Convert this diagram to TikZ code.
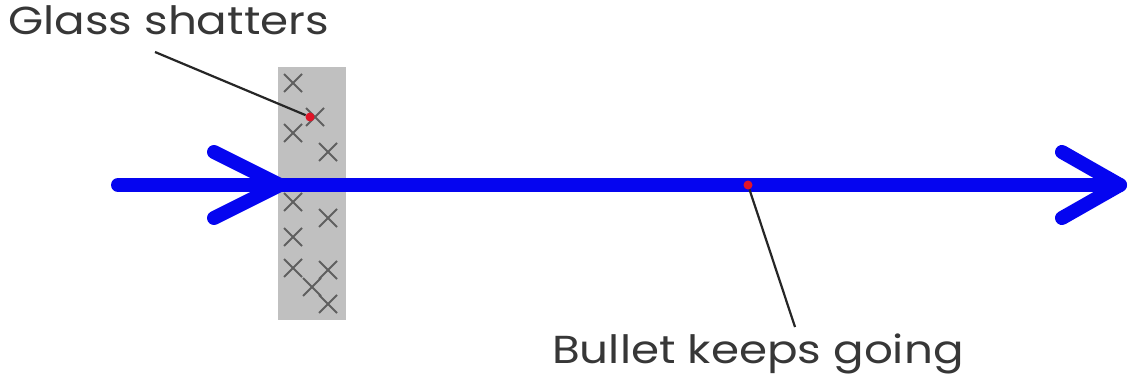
\documentclass[tikz,border=0pt]{standalone}
\usepackage{fontspec}
\setmainfont{Poppins}
\definecolor{glassgray}{RGB}{192,192,192}
\definecolor{xgray}{RGB}{95,95,95}
\definecolor{txtgray}{RGB}{55,55,55}
\definecolor{bulletblue}{RGB}{5,5,240}
\definecolor{dotred}{RGB}{225,20,40}
\tikzset{
  lbl/.style={anchor=base west, inner sep=0pt, text=txtgray, font=\fontsize{39}{44}\selectfont},
  xmark/.style={draw=xgray, line width=1.8pt},
  path/.style={draw=bulletblue, line width=14pt},
  chev/.style={draw=bulletblue, line width=14pt, line cap=round, line join=round},
  reddot/.style={circle, fill=dotred, inner sep=0pt, minimum size=9pt},
  leader/.style={draw=black!85, line width=2.2pt}
}
\newcommand{\xm}[2]{\draw[xmark] (#1-9,#2-9) -- (#1+9,#2+9) (#1-9,#2+9) -- (#1+9,#2-9);}
\newcommand{\wide}[1]{\scalebox{1.16}[1]{#1}}
\begin{document}
\begin{tikzpicture}[x=1pt,y=-1pt]
\useasboundingbox[fill=white] (0,0) rectangle (1131,382);
% glass pane
\fill[glassgray] (278,67) rectangle (346,320);
\xm{293}{83}
\xm{315}{117}
\xm{293}{133}
\xm{328}{152}
\xm{293}{202}
\xm{328}{218}
\xm{293}{237}
\xm{293}{268}
\xm{328}{270}
\xm{312}{287}
\xm{328}{304}
% bullet path
\coordinate (start) at (118,185);
\coordinate (finish) at (1120,185);
\draw[path, line cap=round] (start) -- (finish);
\coordinate (ltip) at (280,185);
\coordinate (rtip) at (1120,185);
\draw[chev] (214,152) -- (ltip) -- (214,218);
\draw[chev] (1062,152) -- (rtip) -- (1062,218);
% labels and dots
\node[lbl] (glass) at (8,35) {\wide{Glass shatters}};
\node[lbl] (bullet) at (552,363) {\wide{Bullet keeps going}};
\node[reddot] (gdot) at (310,117) {};
\node[reddot] (bdot) at (748,185) {};
\coordinate (gl) at (155,52);
\coordinate (bl) at (795,327);
\draw[leader] (gl) -- (gdot);
\draw[leader] (bl) -- (bdot);
\end{tikzpicture}
\end{document}
